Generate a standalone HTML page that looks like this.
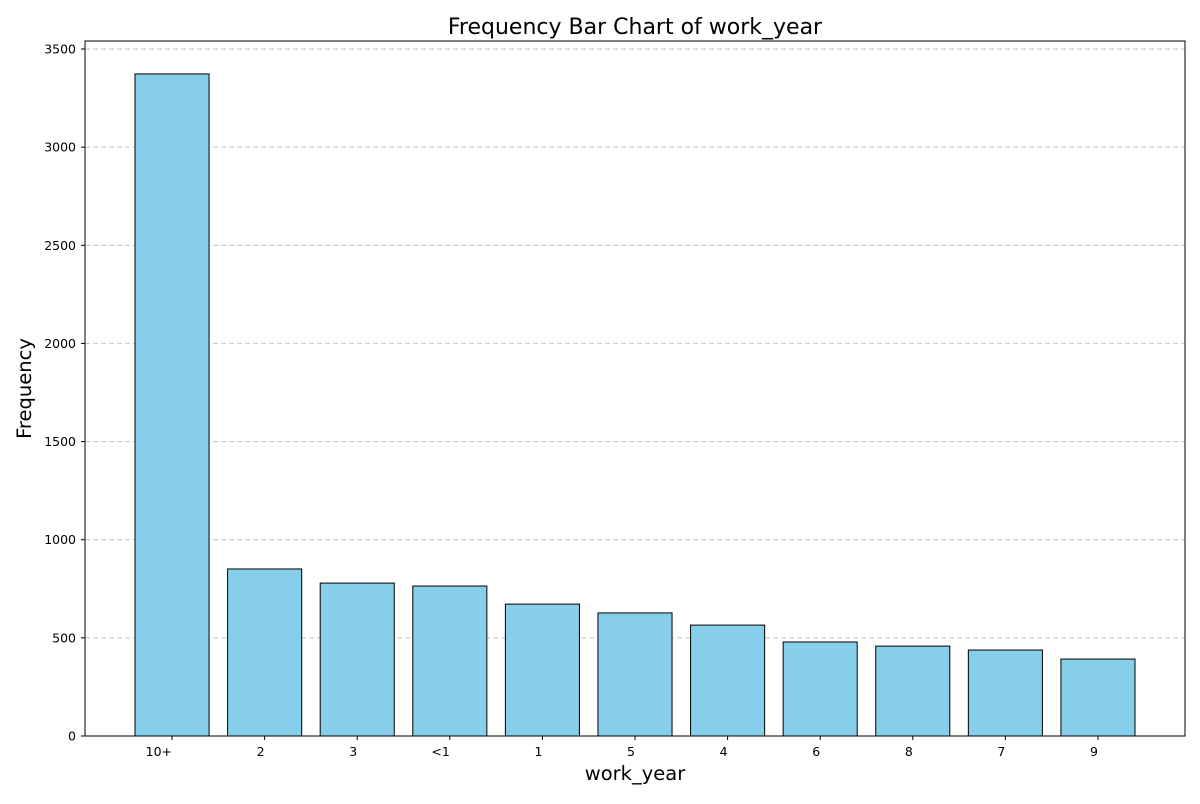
<!DOCTYPE html>
<html><head><meta charset="utf-8"><style>
body{margin:0;background:#fff;font-family:"DejaVu Sans","Liberation Sans",sans-serif;}
</style></head><body>
<svg id="chart" width="1200" height="800" xmlns="http://www.w3.org/2000/svg" font-family="DejaVu Sans, Liberation Sans, sans-serif">
</svg>
<script>
const categories = ["10+","2","3","<1","1","5","4","6","8","7","9"];
const values = [3373,851,779,764,672,627,565,479,458,438,392];
const yTicks = [0,500,1000,1500,2000,2500,3000,3500];

const L=85,R=1185,T=41,B=736;
const yMax=3500*(B-T)/(B-49);
const y=v=>B-v/yMax*(B-T);
const xMin=-0.94,xMax=categories.length-1+0.94;
const x=i=>L+(i-xMin)/(xMax-xMin)*(R-L);
const bw=0.8*(R-L)/(xMax-xMin);
const svg=document.getElementById('chart');
const NS="http://www.w3.org/2000/svg";
function mk(tag,attrs,text){const e=document.createElementNS(NS,tag);for(const k in attrs)e.setAttribute(k,attrs[k]);if(text!==undefined)e.textContent=text;svg.appendChild(e);return e;}

yTicks.forEach(t=>{
  const g=mk('line',{x1:L,x2:R,y1:y(t),y2:y(t),stroke:'#c4c4c4','stroke-dasharray':'5,3','stroke-width':1});
  
  
  const tk=mk('line',{x1:L-4,x2:L,y1:y(t),y2:y(t),stroke:'#000'});
  
  
  const lb=mk('text',{x:L-9,y:y(t)+4.5,'text-anchor':'end','font-size':12.5},String(t));
  
  
});
categories.forEach((c,i)=>{
  const r=mk('rect',{x:x(i)-bw/2,y:y(values[i]),width:bw,height:B-y(values[i]),fill:'#87ceeb',stroke:'#000','stroke-width':1});
  
  
  const tk=mk('line',{x1:x(i),x2:x(i),y1:B,y2:B+4,stroke:'#000'});
  
  
  const lb=mk('text',{x:x(i),y:B+20,'text-anchor':'end','font-size':12.5},c);
  
  
});
const fr=mk('rect',{x:L,y:T,width:R-L,height:B-T,fill:'none',stroke:'#000','stroke-width':1});


const ti=mk('text',{x:(L+R)/2,y:34,'text-anchor':'middle','font-size':22},'Frequency Bar Chart of work_year');


const xl=mk('text',{x:(L+R)/2,y:780,'text-anchor':'middle','font-size':19.5},'work_year');


const yl=mk('text',{x:31,y:(T+B)/2,'text-anchor':'middle','font-size':19.5,transform:'rotate(-90 31 '+((T+B)/2)+')'},'Frequency');


</script>
</body></html>
